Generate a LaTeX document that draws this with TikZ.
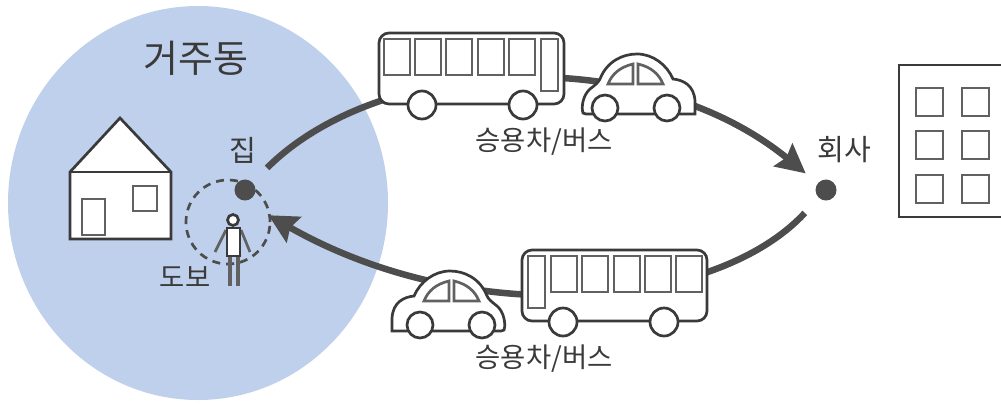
\documentclass[tikz,border=0pt]{standalone}
\usepackage{fontspec}
\setmainfont{Noto Sans CJK KR}
\usepackage{tikz}
\usetikzlibrary{arrows.meta}
\definecolor{regionblue}{HTML}{BFD0EC}
\definecolor{darkgrey}{HTML}{4D4D4D}
\definecolor{inkgrey}{HTML}{3A3A3A}
\tikzstyle{point}=[circle, fill=darkgrey, inner sep=0pt, minimum size=0.21cm]
\tikzstyle{walkcircle}=[circle, draw=darkgrey, dash pattern=on 0.08cm off 0.06cm, line width=0.027cm, inner sep=0pt, minimum size=0.84cm]
\tikzstyle{route}=[draw=darkgrey, line width=0.065cm, shorten <=0.2cm]
\tikzstyle{arrow}=[-{Stealth[length=0.29cm, width=0.29cm, inset=0.04cm]}]
\tikzstyle{outline}=[draw=inkgrey, line width=0.027cm]
\tikzstyle{thinline}=[draw=inkgrey!80, line width=0.027cm]
\tikzstyle{biglabel}=[text=inkgrey, inner sep=0pt, font=\fontsize{10.8}{13}\selectfont]
\tikzstyle{label}=[text=inkgrey, inner sep=0pt, font=\fontsize{8.3}{10}\selectfont]
\tikzstyle{smalllabel}=[text=inkgrey, inner sep=0pt, font=\fontsize{7.8}{9}\selectfont]
\tikzset{
	bus/.pic={
		\draw[outline, fill=white, rounded corners=0.1cm] (0,-71) rectangle (185,0);
		\foreach \x in {5,36,67,99,130}
			\draw[thinline] (\x,-65) rectangle ++(26,36);
		\draw[thinline] (162,-65) rectangle (179,-13);
		\draw[outline, fill=white] (43,1) circle (14);
		\draw[outline, fill=white] (144,1) circle (14);
	},
	car/.pic={
		\draw[outline, fill=white] (0,0) .. controls (-2,-6) and (0,-18) .. (7,-24)
			.. controls (12,-28) and (15,-30) .. (17,-34)
			.. controls (24,-52) and (40,-59) .. (54,-59)
			.. controls (70,-59) and (84,-48) .. (90,-34)
			.. controls (100,-33) and (111,-28) .. (112,-12)
			-- (112,1) -- (3,1) -- cycle;
		\draw[thinline] (25,-29) .. controls (29,-39) and (37,-46) .. (50,-49) -- (50,-29) -- cycle;
		\draw[thinline] (55,-29) -- (55,-49) .. controls (68,-46) and (76,-39) .. (80,-29) -- cycle;
		\draw[outline, fill=white] (22,-5) circle (13);
		\draw[outline, fill=white] (84,-5) circle (13);
	}
}

\begin{document}
\begin{tikzpicture}[x=0.01cm, y=-0.01cm]
	\useasboundingbox (0,0) rectangle (1001,403);
	\begin{scope}
		\fill[regionblue] (198,203) ellipse (190 and 197);
		\draw[outline, fill=white] (70,172) -- (120,118) -- (171,172) -- (171,239) -- (70,239) -- cycle;
		\draw[outline] (70,172) -- (171,172);
		\draw[thinline] (82,199) rectangle (105,235);
		\draw[thinline] (133,186) rectangle (157,211);
	\end{scope}
	\begin{scope}
		\node (walk) at (228,222)[walkcircle] {};
		\node (home) at (245,190)[point] {};
		\node (office) at (826,190)[point] {};
		\node (regionlabel) at (196,58)[biglabel] {거주동};
		\node (homelabel) at (243,150)[label] {집};
		\node (officelabel) at (844,150)[label] {회사};
		\node (walklabel) at (185,277)[smalllabel] {도보};
		\node (toplabel) at (544,142)[smalllabel] {승용차/버스};
		\node (bottomlabel) at (544,359)[smalllabel] {승용차/버스};
	\end{scope}
	\begin{scope}
		\path [route, arrow, shorten >=0.15cm] (home) .. controls (380,55) and (645,42) .. (office);
		\path [route, arrow, shorten >=-0.03cm] (office) .. controls (715,310) and (470,330) .. (walk.7);
	\end{scope}
	\begin{scope}
		\pic at (379,104) {bus};
		\pic at (583,113) {car};
		\pic[xscale=-1] at (707,321) {bus};
		\pic[xscale=-1] at (504,330) {car};
	\end{scope}
	\begin{scope}
		\draw[thinline] (226,230) -- (215,252);
		\draw[thinline] (241,230) -- (250,252);
		\draw[thinline, line width=0.035cm] (230,256) -- (230,284) -- (232,284);
		\draw[thinline, line width=0.035cm] (238,256) -- (238,284) -- (240,284);
		\draw[outline, fill=white] (233,220) circle (5.5);
		\draw[outline, fill=white] (227,228) rectangle (240,256);
	\end{scope}
	\begin{scope}
		\draw[outline] (1001,65) -- (899,65) -- (899,217) -- (1001,217);
		\foreach \y in {88,131,175}
			\foreach \x in {916,962}
				\draw[thinline] (\x,\y) rectangle ++(27,28);
	\end{scope}
\end{tikzpicture}
\end{document}
